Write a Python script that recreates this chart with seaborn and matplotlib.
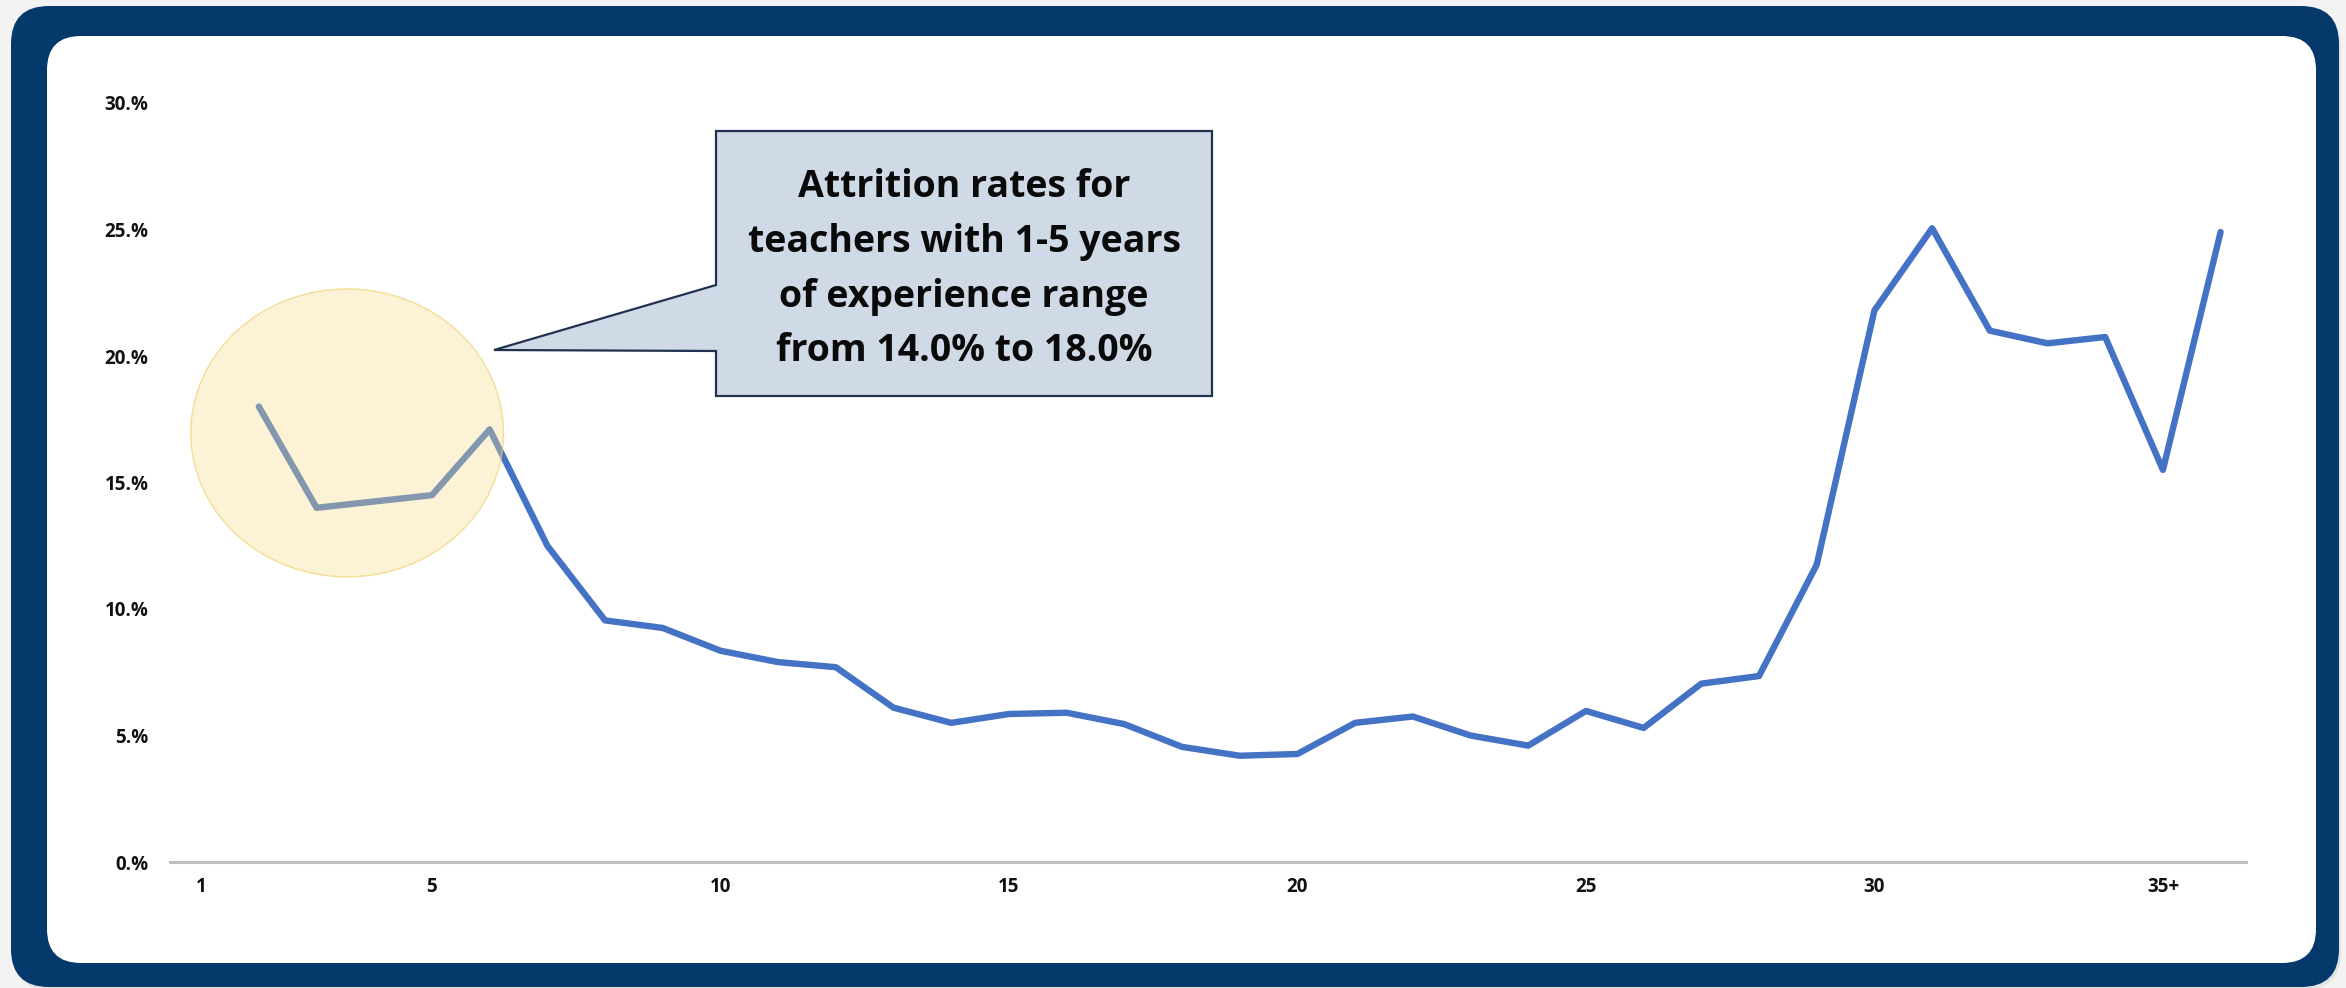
import matplotlib
matplotlib.use("Agg")
import matplotlib.pyplot as plt
import seaborn as sns
from matplotlib.patches import FancyBboxPatch, Ellipse, Polygon
from matplotlib.ticker import FuncFormatter

# ---------------- data ----------------
years = list(range(1, 36))  # 1 .. 34, 35+
attrition_pct = [18.0, 14.0, 14.25, 14.5, 17.1, 12.5, 9.55, 9.25, 8.35, 7.9,
                 7.7, 6.1, 5.5, 5.85, 5.9, 5.45, 4.55, 4.2, 4.27, 5.5,
                 5.75, 5.0, 4.6, 5.97, 5.3, 7.05, 7.35, 11.75, 21.8, 25.05,
                 21.0, 20.5, 20.75, 15.5, 24.9]
xtick_positions = [0, 4, 9, 14, 19, 24, 29, 34]
xtick_labels = ["1", "5", "10", "15", "20", "25", "30", "35+"]
ytick_values = [0, 5, 10, 15, 20, 25, 30]
callout_lines = ["Attrition rates for",
                 "teachers with 1-5 years",
                 "of experience range",
                 "from 14.0% to 18.0%"]

# ---------------- style ----------------
W, H = 2346, 988
sns.set_theme(style="white")
plt.rcParams['font.family'] = ['Open Sans', 'DejaVu Sans']

fig = plt.figure(figsize=(W / 100, H / 100), dpi=100)
fig.patch.set_facecolor('#F3F3F3')

# background frame (pixel coordinates)
bg = fig.add_axes([0, 0, 1, 1], zorder=0)
bg.set_xlim(0, W)
bg.set_ylim(H, 0)
bg.axis('off')
bg.add_patch(FancyBboxPatch((13, 9), 2328, 981, boxstyle="round,pad=0,rounding_size=38",
                            fc='#D8D8D8', ec='none', alpha=0.6))
bg.add_patch(FancyBboxPatch((11, 6), 2328, 981, boxstyle="round,pad=0,rounding_size=38",
                            fc='#05396B', ec='none'))
bg.add_patch(FancyBboxPatch((47, 36), 2269, 927, boxstyle="round,pad=0,rounding_size=34",
                            fc='white', ec='none'))

# main chart axes
ax = fig.add_axes([170 / W, (H - 862) / H, 2076 / W, 759 / H], zorder=2)
ax.patch.set_alpha(0)
sns.lineplot(x=years, y=attrition_pct, ax=ax, color='#4472C4', linewidth=4.6,
             solid_joinstyle='round', solid_capstyle='round')
ax.set_xlim(-0.54, 35.44)
ax.set_ylim(0, 30)
for s in ['left', 'top', 'right']:
    ax.spines[s].set_visible(False)
ax.spines['bottom'].set_color('#BFBFBF')
ax.spines['bottom'].set_linewidth(2.2)
ax.set_xticks(xtick_positions)
ax.set_xticklabels(xtick_labels)
ax.set_yticks(ytick_values)
ax.yaxis.set_major_formatter(FuncFormatter(lambda v, p: f"{int(round(v))}.%"))
ax.tick_params(axis='both', length=0, labelsize=13.5, labelcolor='#111111')
ax.tick_params(axis='y', pad=15.5)
ax.tick_params(axis='x', pad=11)
for lab in ax.get_xticklabels() + ax.get_yticklabels():
    lab.set_fontweight('bold')
ax.set_xlabel('')
ax.set_ylabel('')
ax.grid(False)

# highlight ellipse over years 1-5
ax.add_patch(Ellipse((2.53, 16.96), width=5.42, height=11.38,
                     fc=(0.976, 0.867, 0.54, 0.35), ec=(0.95, 0.82, 0.45, 0.7),
                     lw=1.0, zorder=3))

# callout (pixel coordinates)
top = fig.add_axes([0, 0, 1, 1], zorder=5)
top.set_xlim(0, W)
top.set_ylim(H, 0)
top.axis('off')
top.patch.set_alpha(0)
callout = [(716, 131), (1212, 131), (1212, 396), (716, 396), (716, 351),
           (494, 350), (716, 285)]
top.add_patch(Polygon(callout, closed=True, fc='#D0DAE7', ec='#22314F', lw=1.6,
                      joinstyle='miter'))
baselines = [197, 252, 307, 361]
for line, yb in zip(callout_lines, baselines):
    top.text(964, yb, line, ha='center', va='baseline', fontsize=27,
             fontweight='bold', color='#0A0A0A')

fig.savefig('out.png', dpi=100, facecolor=fig.get_facecolor())
